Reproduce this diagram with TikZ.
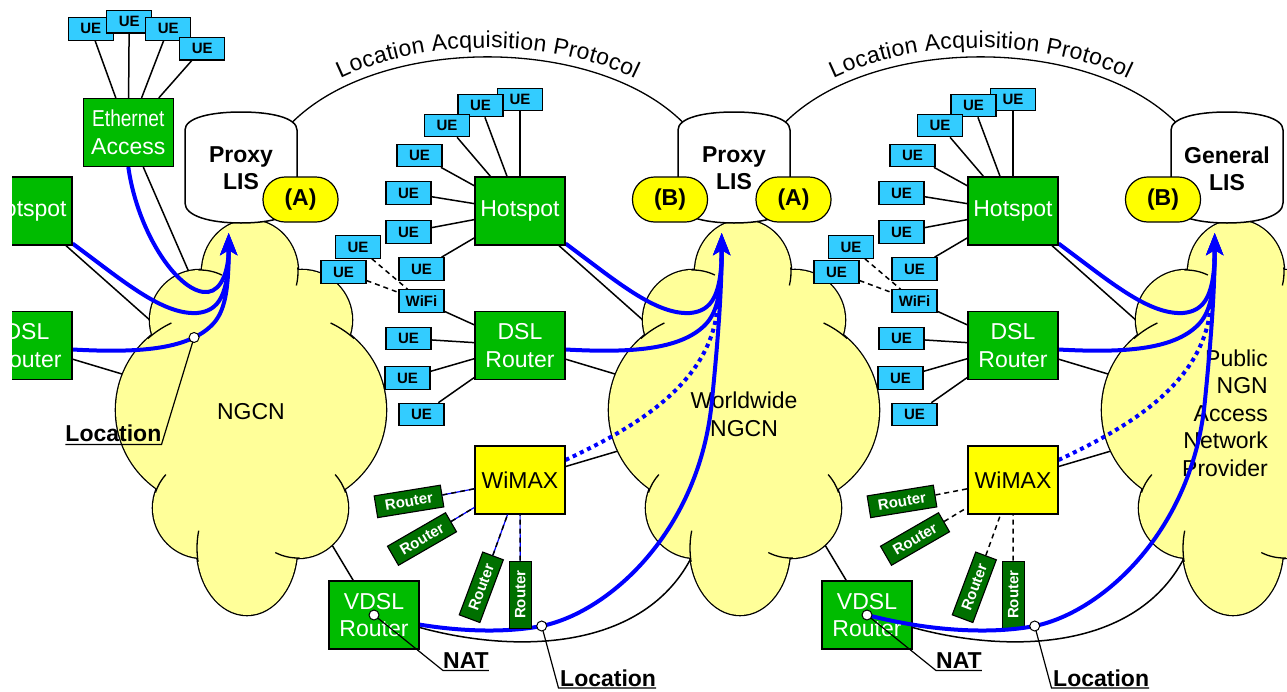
\documentclass[tikz,border=0pt]{standalone}
\usepackage{fontspec}
\setmainfont{Liberation Sans}
\usetikzlibrary{arrows.meta,calc,decorations.text}

\definecolor{boxgreen}{RGB}{0,187,0}
\definecolor{routergreen}{RGB}{0,112,0}
\definecolor{uecyan}{RGB}{51,204,255}
\definecolor{cloudyellow}{RGB}{255,255,153}
\definecolor{tagyellow}{RGB}{255,255,0}
\definecolor{flowblue}{RGB}{0,0,255}

\pgfdeclarelayer{lines}
\pgfdeclarelayer{clouds}
\pgfdeclarelayer{flows}
\pgfdeclarelayer{over}
\pgfdeclarelayer{front}
\pgfsetlayers{lines,clouds,flows,main,over,front}

% inner arc of one cloud lobe: centre, start angle, end angle, x radius, y radius
\newcommand{\lobearc}[5]{\draw[line width=1.3pt] ($(#1)+(#2:#4 and #5)$) arc[start angle=#2, end angle=#3, x radius=#4, y radius=#5];}

\tikzset{
  wire/.style={line width=1.5pt},
  lead/.style={line width=1.2pt},
  dashlink/.style={line width=1.5pt, dash pattern=on 5pt off 4pt},
  radio/.style={line width=1.5pt, dash pattern=on 5pt off 4pt},
  radioblue/.style={radio, preaction={draw=flowblue, solid, line width=1.2pt}},
  flow/.style={draw=flowblue, line width=4pt},
  flowtip/.style={flow, -{Stealth[length=22pt, width=17pt, inset=5pt]}},
  flowdots/.style={draw=flowblue, line width=4pt, dash pattern=on 4pt off 4pt},
  ue/.style={draw=black, line width=1.1pt, fill=uecyan, minimum width=45pt, minimum height=22.5pt, inner sep=0pt, font=\bfseries\fontsize{15}{15}\selectfont},
  hub/.style={draw=black, line width=1.1pt, fill=boxgreen, text=white, minimum width=90pt, minimum height=68pt, inner sep=0pt, align=center, font=\fontsize{23}{27.5}\selectfont},
  rtr/.style={draw=black, line width=1.1pt, fill=routergreen, text=white, minimum width=67pt, minimum height=22pt, inner sep=0pt, font=\bfseries\fontsize{15}{15}\selectfont},
  tag/.style={draw=black, line width=1.2pt, fill=tagyellow, rounded corners=22pt, minimum width=75pt, minimum height=45pt, inner sep=0pt, font=\bfseries\fontsize{23}{23}\selectfont},
  liscap/.style={align=center, inner sep=0pt, font=\bfseries\fontsize{23}{27}\selectfont},
  lbl/.style={inner sep=0pt, font=\bfseries\fontsize{23}{23}\selectfont},
  dot/.style={draw=black, fill=white, line width=1pt},
  drum/.style={draw=black, fill=white, line width=1.5pt},
  cloudtext/.style={inner sep=0pt, font=\fontsize{23}{27.5}\selectfont},
  arctext/.style={decorate, decoration={text along path, text align=center, raise=9pt, text={|\fontsize{23}{23}\selectfont|Location Acquisition Protocol}}},
  pics/cloud/.style={code={
    \path[draw=black, line width=2.6pt]
      (-1,-148) ellipse[x radius=48, y radius=52]
      (-51,-100) circle[radius=50]
      (51,-100) circle[radius=50]
      (-39,-10) circle[radius=96]
      (39,-10) circle[radius=96]
      (-48,88) circle[radius=50]
      (47,88) circle[radius=50]
      (-4,128) ellipse[x radius=50, y radius=67];
    \path[fill=cloudyellow]
      (-1,-148) ellipse[x radius=48, y radius=52]
      (-51,-100) circle[radius=50]
      (51,-100) circle[radius=50]
      (-39,-10) circle[radius=96]
      (39,-10) circle[radius=96]
      (-48,88) circle[radius=50]
      (47,88) circle[radius=50]
      (-4,128) ellipse[x radius=50, y radius=67];
    \lobearc{-1,-148}{-5}{15}{48}{52}
    \lobearc{-51,-100}{-92}{-64}{50}{50}
    \lobearc{-39,-10}{228}{245}{96}{96}
    \lobearc{39,-10}{295}{312}{96}{96}
    \lobearc{-48,88}{198}{222}{50}{50}
    \lobearc{47,88}{318}{342}{50}{50}
    \lobearc{-4,128}{168}{195}{50}{67}
    \lobearc{47,88}{88}{117}{50}{50}
  }}
}

% hotspot and DSL uplinks into the access cloud, with their location flows
\newcommand{\hubflows}{%
  \begin{pgfonlayer}{lines}
    \coordinate (hotin) at (680,353);
    \coordinate (dslin) at (640,381.5);
    \draw[wire] (hot) -- (hotin);
    \draw[wire] (dsl) -- (dslin);
  \end{pgfonlayer}
  \begin{pgfonlayer}{flows}
    \coordinate (tip) at (721.7,233);
    \draw[flowtip] ([yshift=2pt]hot.south east) .. controls (615,280) and (655,315) .. (690,313) .. controls (712,311) and (721.7,295) .. (tip);
    \draw[flowtip] ([yshift=-4pt]dsl.east) .. controls (630,353) and (680,350) .. (705,325) coordinate[pos=0.8] (dsldot) .. controls (718,312) and (721.7,290) .. (tip);
  \end{pgfonlayer}}

% one access site: #1 style of the radio links, #2 layer of the VDSL flow
\newcommand{\accesscell}[2]{%
  \node[ue] (ue1) at (520,99.5) {UE};
  \node[ue] (ue2) at (480.5,105.5) {UE};
  \node[ue] (ue3) at (447,125.5) {UE};
  \node[ue] (ue4) at (419.5,155.5) {UE};
  \node[ue] (ue5) at (408.5,193) {UE};
  \node[ue] (ue6) at (408.5,232) {UE};
  \node[ue] (ue7) at (421.5,269) {UE};
  \node[ue] (ue8) at (358,247) {UE};
  \node[ue] (ue9) at (343.5,272) {UE};
  \node[ue] (wifi) at (421.5,301) {WiFi};
  \node[ue] (ue10) at (408.5,338.5) {UE};
  \node[ue] (ue11) at (407.5,378) {UE};
  \node[ue] (ue12) at (421.5,414.5) {UE};
  \node[hub] (hot) at (520,211) {Hotspot};
  \node[hub] (dsl) at (520,345.5) {DSL\\Router};
  \node[hub, fill=tagyellow, text=black] (wimax) at (520,480) {WiMAX};
  \node[rtr, rotate=9.2] (r1) at (409,501.4) {Router};
  \node[rtr, rotate=30] (r2) at (422,539) {Router};
  \node[rtr, rotate=69.5] (r3) at (481.3,587.3) {Router};
  \node[rtr, rotate=90] (r4) at (520.3,594.7) {Router};
  \node[hub] (vdsl) at (374,615) {VDSL\\Router};
  \coordinate (nat) at (374,615);
  \foreach \uu in {ue1,ue2,ue3,ue4,ue5,ue6,ue7} {\draw[wire] (\uu) -- (hot);}
  \foreach \uu in {wifi,ue10,ue11,ue12} {\draw[wire] (\uu) -- (dsl);}
  \foreach \uu in {ue8,ue9} {\draw[dashlink] (\uu) -- (wifi);}
  \foreach \rt in {r1,r2,r3,r4} {\draw[#1] (\rt) -- (wimax);}
  \hubflows
  \begin{pgfonlayer}{lines}
    \coordinate (wmxin) at (640,444.5);
    \coordinate (prevcloud) at (320,525);
    \coordinate (cloudfoot) at (695,550);
    \draw[wire] (wimax) -- (wmxin);
    \draw[wire] (vdsl) -- (prevcloud);
    \draw[wire] (vdsl) .. controls (520,655) and (650,650) .. (cloudfoot);
  \end{pgfonlayer}
  \begin{pgfonlayer}{flows}
    \draw[flowdots] ([yshift=20pt]wimax.east) .. controls (640,425) and (715,380) .. (718,300) .. controls (720,285) and (721.3,272) .. (721.5,258);
  \end{pgfonlayer}
  \begin{pgfonlayer}{#2}
    \draw[flowtip] (nat) .. controls (440,632) and (500,634) .. (541.7,626) coordinate (locdot) .. controls (610,612) and (700,530) .. (712,400) .. controls (718,340) and (721.7,290) .. (tip);
  \end{pgfonlayer}
  \begin{pgfonlayer}{front}
    \node[lbl, anchor=base west] (natlbl) at (443,668) {NAT};
    \draw[lead] (nat) -- ([yshift=-2.5pt]natlbl.base west) -- ([yshift=-2.5pt]natlbl.base east);
    \draw[dot] (nat) circle[radius=5];
    \node[lbl, anchor=base west] (loclbl) at (560,686) {Location};
    \draw[lead] (locdot) -- ([xshift=-1.5pt,yshift=-2pt]loclbl.base west) -- ([yshift=-2pt]loclbl.base east);
    \draw[dot] (locdot) circle[radius=5];
  \end{pgfonlayer}}

% location information server drum: #1 name, #2 left edge, #3 caption
\newcommand{\lisdrum}[3]{%
  \begin{scope}[shift={(#2,0)}]
    \draw[drum] (0,130) .. controls (0,118) and (25,112) .. (56,112) .. controls (87,112) and (112,118) .. (112,130) -- (112,203) .. controls (112,216) and (87,223) .. (56,223) .. controls (25,223) and (0,216) .. (0,203) -- cycle;
    \node[liscap] (#1) at (56,168.5) {#3};
  \end{scope}}

\begin{document}
\begin{tikzpicture}[x=1pt, y=-1pt]
\useasboundingbox (0,0) rectangle (1287,691);

% access network clouds
\begin{pgfonlayer}{clouds}
  \pic at (251,420) {cloud};
  \pic at (744,420) {cloud};
  \pic at (1237,420) {cloud};
  \node[cloudtext] (ngcnL) at (251,412) {NGCN};
  \node[cloudtext, align=center] (ngcnM) at (744,414.5) {Worldwide\\NGCN};
  \node[cloudtext, align=right, anchor=east] (ngnR) at (1268,413) {Public\\NGN\\Access\\Network\\Provider};
\end{pgfonlayer}

% left site: hotspot and DSL router
\begin{scope}[shift={(-493,0)}, name prefix=L-]
  \node[hub] (hot) at (520,211) {Hotspot};
  \node[hub] (dsl) at (520,345.5) {DSL\\Router};
  \hubflows
\end{scope}

% left site: ethernet access
\node[ue] (eu1) at (90.8,28.8) {UE};
\node[ue] (eu2) at (129.2,21.7) {UE};
\node[ue] (eu3) at (168.2,28.8) {UE};
\node[ue] (eu4) at (202.2,48.7) {UE};
\node[hub] (eth) at (128.3,132.5) {\scalebox{0.83}[1]{Ethernet}\\Access};
\foreach \uu in {eu1,eu2,eu3,eu4} {\draw[wire] (\uu) -- (eth);}
\begin{pgfonlayer}{lines}
  \coordinate (ethin) at (195,286);
  \draw[wire] (eth) -- (ethin);
\end{pgfonlayer}
\begin{pgfonlayer}{flows}
  \draw[flowtip] (eth.south) .. controls (138,235) and (180,295) .. (208,292) .. controls (222,290) and (228.7,270) .. (L-tip);
\end{pgfonlayer}
\begin{pgfonlayer}{front}
  \node[lbl, anchor=base east] (loclblL) at (161.5,441.5) {Location};
  \draw[lead] (L-dsldot) -- ([yshift=-3pt]loclblL.base east) -- ([yshift=-3pt]loclblL.base west);
  \draw[dot] (L-dsldot) circle[radius=5];
\end{pgfonlayer}

% middle and right sites
\begin{scope}[name prefix=M-]
  \accesscell{radioblue}{flows}
\end{scope}
\begin{scope}[shift={(493,0)}, name prefix=R-]
  \accesscell{radio}{over}
\end{scope}

% location information servers
\lisdrum{lisL}{185}{Proxy\\LIS}
\lisdrum{lisM}{678}{Proxy\\LIS}
\lisdrum{lisR}{1171}{General\\LIS}
\node[tag] (tagLA) at (300.5,199.5) {(A)};
\node[tag] (tagMB) at (670,199.5) {(B)};
\node[tag] (tagMA) at (793.5,199.5) {(A)};
\node[tag] (tagRB) at (1163,199.5) {(B)};

% location acquisition protocol between servers
\begin{pgfonlayer}{lines}
  \coordinate (lapL) at (292,122.5);
  \coordinate (lapM1) at (683,122.5);
  \coordinate (lapM2) at (785,122.5);
  \coordinate (lapR) at (1176,122.5);
  \draw[wire, line width=1.3pt] (lapL) .. controls (380,35) and (595,35) .. (lapM1);
  \draw[wire, line width=1.3pt] (lapM2) .. controls (873,35) and (1088,35) .. (lapR);
  \path[arctext] (lapL) .. controls (380,35) and (595,35) .. (lapM1);
  \path[arctext] (lapM2) .. controls (873,35) and (1088,35) .. (lapR);
\end{pgfonlayer}

% page margin on the left
\begin{pgfonlayer}{front}
  \fill[white] (0,0) rectangle (12,691);
\end{pgfonlayer}
\end{tikzpicture}
\end{document}
